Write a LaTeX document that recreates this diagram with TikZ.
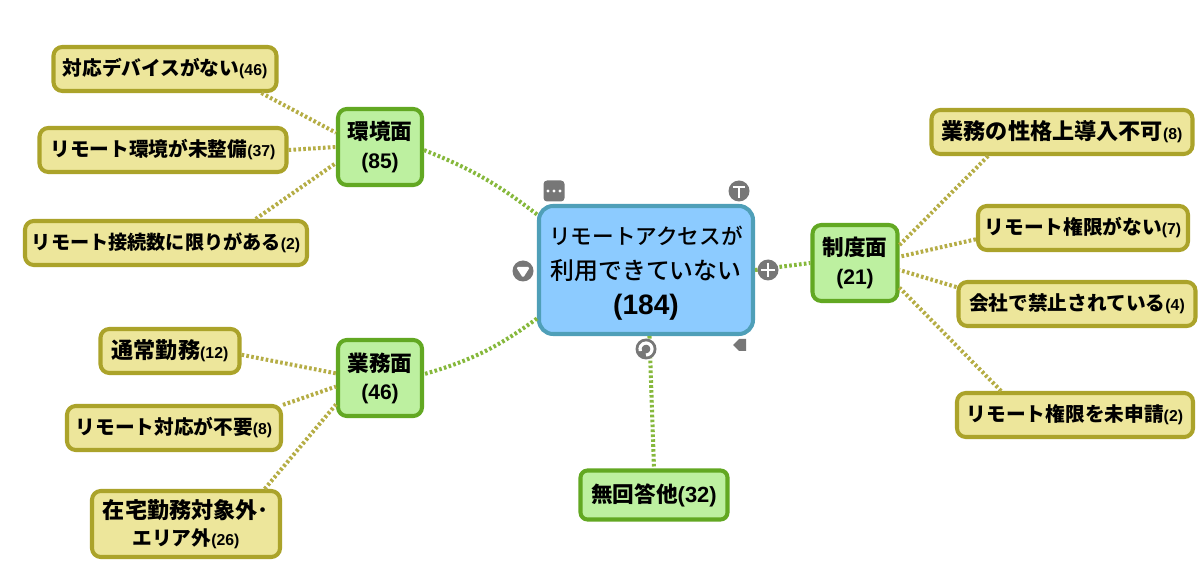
\documentclass[tikz,border=0pt]{standalone}
\usepackage{fontspec}
\setmainfont{Noto Sans CJK JP}
\newfontfamily\medfont{Noto Sans CJK JP Medium}
\newfontfamily\digfont{Liberation Sans}
\newcommand{\numtag}[2]{{\digfont\bfseries\fontsize{#1}{#1}\selectfont(#2)}}
\newcommand{\widej}[1]{{\fontsize{12.6}{15}\selectfont #1}}
\definecolor{rootfill}{HTML}{8CCBFF}
\definecolor{rootline}{HTML}{4F9FB8}
\definecolor{subfill}{HTML}{BDF0A0}
\definecolor{subline}{HTML}{62A822}
\definecolor{leaffill}{HTML}{EDE69B}
\definecolor{leafline}{HTML}{ABA32A}
\definecolor{subdep}{HTML}{86B83C}
\definecolor{leafdep}{HTML}{B5AD45}
\definecolor{icongray}{HTML}{777777}
\begin{document}
\begin{tikzpicture}[x=0.02cm,y=-0.02cm]
\tikzstyle{wh}= [minimum width=#1*0.02cm]
\tikzstyle{box}= [rectangle,draw,line width=2.3pt,inner sep=0pt,align=center]
\tikzstyle{rootb}= [box,draw=rootline,fill=rootfill,rounded corners=8pt,minimum height=128*0.02cm,font=\medfont\fontsize{12.3}{20}\selectfont]
\tikzstyle{subb}= [box,draw=subline,fill=subfill,rounded corners=5pt,minimum height=76*0.02cm,font=\bfseries\fontsize{12.3}{16}\selectfont]
\tikzstyle{leaf}= [box,draw=leafline,fill=leaffill,rounded corners=5pt,minimum height=44*0.02cm,font=\bfseries\fontsize{11.2}{15}\selectfont]
\tikzstyle{dep}= [line width=2.3pt,dash pattern=on 1.5pt off 1.3pt]
\tikzstyle{subd}= [dep,draw=subdep]
\tikzstyle{leafd}= [dep,draw=leafdep]
\tikzstyle{icon}= [circle,fill=icongray,inner sep=0pt,minimum size=21*0.02cm]
\tikzstyle{glyph}= [draw=white,line width=1.3pt]

\useasboundingbox (0,0) rectangle (1200,577);

\path
	( 646,270) node[rootb,wh=214] (access) {\rule{0pt}{14pt}リモートアクセスが\\{\fontsize{13.6}{20}\selectfont 利用できていない}\\\numtag{16}{184}}
	( 380,147) node[subb,wh=84] (env) {環境面\\\numtag{12}{85}}
	( 380,378) node[subb,wh=84] (work) {業務面\\\numtag{12}{46}}
	( 855,263) node[subb,wh=85] (rule) {制度面\\\numtag{12}{21}}
	( 654,495) node[subb,wh=147,minimum height=49*0.02cm,rounded corners=4pt] (noans) {無回答他\numtag{12.5}{32}}
	( 165, 69) node[leaf,wh=223] (device) {対応デバイスがない\numtag{9}{46}}
	( 163,150) node[leaf,wh=247] (envready) {リモート環境が未整備\numtag{9}{37}}
	( 166,243) node[leaf,wh=282] (connlimit) {{\fontsize{10.9}{15}\selectfont リモート接続数に限りがある}\numtag{9}{2}}
	( 170,351) node[leaf,wh=139] (normal) {\widej{通常勤務}\numtag{9}{12}}
	( 174,428) node[leaf,wh=214] (noneed) {リモート対応が不要\numtag{9}{8}}
	( 186,524) node[leaf,wh=188,minimum height=66*0.02cm] (home) {\widej{在宅勤務対象外･}\\エリア外\numtag{9}{26}}
	(1062,132) node[leaf,wh=261] (nature) {\widej{業務の性格上導入不可}\numtag{9}{8}}
	(1083,228) node[leaf,wh=210] (noauth) {リモート権限がない\numtag{9}{7}}
	(1077,304) node[leaf,wh=237] (banned) {会社で禁止されている\numtag{9}{4}}
	(1075,415) node[leaf,wh=236] (unfiled) {リモート権限を未申請\numtag{9}{2}}
;
\draw[subd] (access.153) to[bend right=8] (env.-4);
\draw[subd] (access.204) to[bend left=10] (work.5);
\draw[subd] (access.east) -- (rule.west);
\draw[subd] (access.-87) -- (noans.north);
\draw[leafd] (device.-14) -- (env.162);
\draw[leafd] (envready.east) -- (env.west);
\draw[leafd] (connlimit.15) -- (env.200);
\draw[leafd] (normal.-3) -- (work.174);
\draw[leafd] (noneed.12) -- (work.191);
\draw[leafd] (home.24) -- (work.211);
\draw[leafd] (nature.198) -- (rule.22);
\draw[leafd] (noauth.186) -- (rule.8);
\draw[leafd] (banned.172) -- (rule.-9);
\draw[leafd] (unfiled.162) -- (rule.-29);

% handles round the selected box
\path
	(554,191) node[rectangle,fill=icongray,rounded corners=2pt,inner sep=0pt,minimum size=21*0.02cm] (more) {}
	(739,191) node[icon] (textic) {}
	(523,271) node[icon] (downic) {}
	(768,270) node[icon] (plusic) {}
	(646,349) node[icon] (turnic) {}
;
\fill[white] (548,191) circle (1.6) (554,191) circle (1.6) (560,191) circle (1.6);
\draw[glyph,line width=1.6pt] (733,187) -- (745,187) (739,187) -- (739,198);
\fill[white,rounded corners=1pt] (516,267) -- (530,267) -- (523,278) -- cycle;
\draw[glyph,line width=1.6pt] (761,270) -- (775,270) (768,263) -- (768,277);
\draw[glyph,line width=1.8pt] (646,355) arc (90:-200:6);
\fill[icongray] (733,345) -- (739,339) -- (746,339) -- (746,351) -- (739,351) -- cycle;
\end{tikzpicture}
\end{document}
